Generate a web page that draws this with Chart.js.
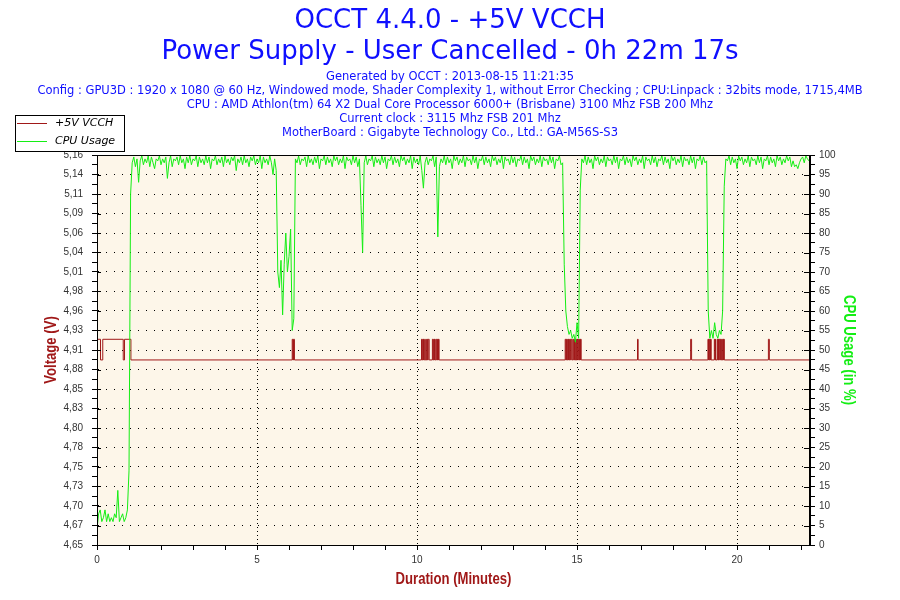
<!DOCTYPE html>
<html>
<head>
<meta charset="utf-8">
<script src="https://cdn.jsdelivr.net/npm/chart.js@4.4.0/dist/chart.umd.min.js"></script>
<style>
  html, body { margin: 0; padding: 0; background: #ffffff; }
  canvas { display: block; }
</style>
</head>
<body>
<canvas id="c" width="900" height="600"></canvas>
<script>
// ---------- DATA ----------
const titleLines = ['OCCT 4.4.0 - +5V VCCH', 'Power Supply - User Cancelled - 0h 22m 17s'];
const infoLines = [
  'Generated by OCCT : 2013-08-15 11:21:35',
  'Config : GPU3D : 1920 x 1080 @ 60 Hz, Windowed mode, Shader Complexity 1, without Error Checking ; CPU:Linpack : 32bits mode, 1715,4MB',
  'CPU : AMD Athlon(tm) 64 X2 Dual Core Processor 6000+ (Brisbane) 3100 Mhz FSB 200 Mhz',
  'Current clock : 3115 Mhz FSB 201 Mhz',
  'MotherBoard : Gigabyte Technology Co., Ltd.: GA-M56S-S3'
];
const seriesNames = ['+5V VCCH', 'CPU Usage'];
const axisTitles = { x: 'Duration (Minutes)', volt: 'Voltage (V)', cpu: 'CPU Usage (in %)' };

const durationMinutes = 22.28;
const voltMin = 4.65;
const voltMax = 5.16;
const voltageTickLabels = ['4,65','4,67','4,70','4,73','4,75','4,78','4,80','4,83','4,85','4,88','4,91',
                           '4,93','4,96','4,98','5,01','5,04','5,06','5,09','5,11','5,14','5,16'];

// +5V VCCH readings: [minute at which the reading starts, volts]
const voltReadings = [
  [0, 4.919], [0.11, 4.892], [0.18, 4.919], [0.82, 4.892], [0.86, 4.919], [1.06, 4.892],
  [6.10, 4.919], [6.12, 4.892], [6.14, 4.919], [6.17, 4.892],
  [10.14, 4.919], [10.16, 4.892], [10.18, 4.919], [10.20, 4.892], [10.21, 4.919], [10.23, 4.892],
  [10.27, 4.919], [10.29, 4.892], [10.31, 4.919], [10.33, 4.892], [10.35, 4.919], [10.38, 4.892],
  [10.48, 4.919], [10.50, 4.892], [10.52, 4.919], [10.54, 4.892], [10.55, 4.919], [10.57, 4.892],
  [10.60, 4.919], [10.62, 4.892], [10.64, 4.919], [10.66, 4.892], [10.67, 4.919], [10.69, 4.892],
  [14.63, 4.919], [14.65, 4.892], [14.67, 4.919], [14.69, 4.892], [14.71, 4.919], [14.73, 4.892],
  [14.74, 4.919], [14.76, 4.892],
  [14.78, 4.919], [14.80, 4.892], [14.82, 4.919], [14.85, 4.892],
  [14.88, 4.919], [14.90, 4.892], [14.92, 4.919], [14.94, 4.892],
  [14.96, 4.919], [14.98, 4.892], [15.00, 4.919], [15.02, 4.892], [15.04, 4.919], [15.06, 4.892],
  [15.08, 4.919], [15.10, 4.892], [15.11, 4.919], [15.13, 4.892],
  [16.89, 4.919], [16.91, 4.892],
  [18.55, 4.919], [18.58, 4.892],
  [19.09, 4.919], [19.11, 4.892], [19.12, 4.919], [19.13, 4.892],
  [19.15, 4.919], [19.17, 4.892], [19.18, 4.919], [19.19, 4.892],
  [19.29, 4.919], [19.31, 4.892], [19.32, 4.919], [19.33, 4.892],
  [19.38, 4.919], [19.40, 4.892], [19.41, 4.919], [19.42, 4.892],
  [19.44, 4.919], [19.46, 4.892], [19.48, 4.919], [19.50, 4.892], [19.52, 4.919], [19.54, 4.892],
  [19.56, 4.919], [19.58, 4.892], [19.59, 4.919], [19.60, 4.892],
  [20.98, 4.919], [21.01, 4.892],
  [22.28, 4.892]
];

// CPU usage (%), one reading every 0.05 minute from 0
const cpuSampleMinutes = 0.05;
const cpuUsage = [
  4, 8, 9, 6, 7, 9, 6, 8, 6, 7,
  6, 8, 7, 14, 6, 7, 8, 6, 7, 9,
  19, 90, 98, 99.5, 97, 99, 93, 98.5, 99.8, 97.5,
  99, 98, 99.8, 97, 99.5, 98, 96.5, 99, 98.5, 99.8,
  97.5, 99, 98, 99.5, 94, 98, 99.8, 97, 99, 98.5,
  99.5, 97.5, 99.8, 98, 99, 96.5, 99.5, 98, 99.8, 97.5,
  99, 98.5, 99.8, 97, 99.5, 98, 99, 97.5, 99.8, 98,
  99.5, 96.5, 99, 98.5, 99.8, 97.5, 99, 98, 99.5, 97,
  99.8, 98, 99, 97.5, 99.5, 98.5, 99.8, 96, 99, 98,
  99.5, 97.5, 99.8, 98, 99, 97, 99.5, 98.5, 99.8, 97.5,
  99, 98, 99.8, 96.5, 99.5, 98, 99, 97.5, 99.8, 98,
  95, 99, 96, 70, 66, 73, 59, 72, 80, 70,
  74, 81, 55, 58, 99, 98, 99.8, 97.5, 99, 98.5,
  99.5, 97, 99.8, 98, 99, 97.5, 99.5, 98, 99.8, 96.5,
  99, 98.5, 99.8, 97.5, 99.5, 98, 99, 97, 99.8, 98.5,
  99.5, 97.5, 99, 98, 99.8, 96.5, 99.5, 98.5, 99, 97.5,
  99.8, 98, 99.5, 97, 99, 87, 75, 98, 99.8, 97.5,
  99, 98.5, 99.8, 97, 99.5, 98, 99, 97.5, 99.8, 98,
  99.5, 96.5, 99, 98.5, 99.8, 97.5, 99.5, 98, 99, 97,
  99.8, 98.5, 99.5, 97.5, 99, 98, 99.8, 96.5, 99.5, 98,
  99, 97.5, 99.8, 96, 91.5, 98, 99.5, 97.5, 99, 98.5,
  99.8, 97, 99.5, 79, 97, 99, 98, 99.8, 97.5, 99.5,
  98, 99, 96.5, 99.8, 98.5, 99.5, 97.5, 99, 98, 99.8,
  97, 99.5, 98.5, 99, 97.5, 99.8, 98, 99.5, 96.5, 99,
  98.5, 99.8, 97.5, 99.5, 98, 99, 97, 99.8, 98.5, 99.5,
  97.5, 99, 98, 99.8, 96.5, 99.5, 98.5, 99, 97.5, 99.8,
  98, 99.5, 97, 99, 98.5, 99.8, 97.5, 99.5, 98, 99,
  96.5, 99.8, 98.5, 99.5, 97.5, 99, 98, 99.8, 97, 99.5,
  98.5, 99, 97.5, 99.8, 98, 99.5, 96.5, 99, 98.5, 99.8,
  97.5, 98, 72, 60, 56, 54, 55, 53, 54, 52,
  57, 53, 91, 99, 98, 99.8, 97.5, 99.5, 98, 99,
  96.5, 99.8, 98.5, 99.5, 97.5, 99, 98, 99.8, 97, 99.5,
  98.5, 99, 97.5, 99.8, 98, 99.5, 96.5, 99, 98.5, 99.8,
  97.5, 99.5, 98, 99, 97, 99.8, 98.5, 99.5, 97.5, 99,
  98, 99.8, 96.5, 99.5, 98.5, 99, 97.5, 99.8, 98, 99.5,
  97, 99, 98.5, 99.8, 97.5, 99.5, 98, 99, 96.5, 99.8,
  98.5, 99.5, 97.5, 99, 98, 99.8, 97, 99.5, 98.5, 99,
  97.5, 99.8, 98, 99.5, 96.5, 99, 98.5, 99.8, 97.5, 99.5,
  98, 98.5, 60, 53, 55, 53, 57, 54, 53, 55,
  54, 60, 92, 99, 98.5, 99.8, 97.5, 99.5, 98, 99,
  96.5, 99.8, 98.5, 99.5, 97.5, 99, 98, 99.8, 97, 99.5,
  98.5, 99, 97.5, 99.8, 98, 99.5, 96.5, 99, 98.5, 99.8,
  97.5, 99.5, 98, 99, 97, 99.8, 98.5, 99.5, 97.5, 99,
  98, 99.8, 98.5, 99.5, 97, 98.5, 97, 97.5, 96.5, 98,
  99, 99.5, 98, 99.8, 99, 98.5, 99.5
];

// ---------- STYLE ----------
const COLOR_VOLT = '#A01818';
const COLOR_CPU = '#14EE14';
const COLOR_TITLE = '#0F0FFF';
const PLOT_BG = '#FDF6E9';
const TICK_FONT = { family: "'Liberation Sans', Arial, sans-serif", size: 10 };
const AXIS_TITLE_FONT = "bold 16px 'Liberation Sans', Arial, sans-serif";

const voltData = voltReadings.map(([t, v]) => ({ x: t, y: v }));
const cpuData = cpuUsage.map((v, i) => ({ x: +(i * cpuSampleMinutes).toFixed(2), y: v }));

function drawNarrowTitle(ctx, text, x, y, rot, color) {
  ctx.save();
  ctx.translate(x, y);
  ctx.rotate(rot);
  ctx.scale(0.82, 1);
  ctx.font = AXIS_TITLE_FONT;
  ctx.fillStyle = color;
  ctx.textAlign = 'center';
  ctx.textBaseline = 'middle';
  ctx.fillText(text, 0, 0);
  ctx.restore();
}

const occtDecor = {
  id: 'occtDecor',
  beforeDraw(chart) {
    const { ctx, chartArea: a } = chart;
    ctx.save();
    ctx.fillStyle = '#ffffff';
    ctx.fillRect(0, 0, chart.width, chart.height);
    ctx.fillStyle = PLOT_BG;
    ctx.fillRect(a.left, a.top, a.right - a.left, a.bottom - a.top);
    ctx.restore();
  },
  afterDraw(chart) {
    const { ctx, chartArea: a } = chart;
    ctx.save();
    // frame
    ctx.strokeStyle = '#000';
    ctx.lineWidth = 1;
    ctx.strokeRect(Math.round(a.left) + 0.5, Math.round(a.top) + 0.5,
                   Math.round(a.right - a.left) - 1, Math.round(a.bottom - a.top));
    // inner halves of major ticks on both value axes
    const yV = chart.scales.yV, yC = chart.scales.yC;
    ctx.beginPath();
    yV.ticks.forEach((t, i) => {
      if (i % 2 === 0) {
        const y = Math.round(yV.getPixelForValue(t.value)) + 0.5;
        ctx.moveTo(a.left, y); ctx.lineTo(a.left + 4, y);
      }
    });
    yC.ticks.forEach((t) => {
      if (t.value % 5 === 0) {
        const y = Math.round(yC.getPixelForValue(t.value)) + 0.5;
        ctx.moveTo(a.right - 6, y); ctx.lineTo(a.right, y);
      }
    });
    ctx.stroke();

    // axis titles (narrow bold)
    const midY = (a.top + a.bottom) / 2;
    drawNarrowTitle(ctx, axisTitles.volt, 52, midY, -Math.PI / 2, COLOR_VOLT);
    drawNarrowTitle(ctx, axisTitles.cpu, 848, midY, Math.PI / 2, COLOR_CPU);
    drawNarrowTitle(ctx, axisTitles.x, (a.left + a.right) / 2, 580, 0, COLOR_VOLT);

    // header text
    ctx.fillStyle = COLOR_TITLE;
    ctx.textAlign = 'center';
    ctx.textBaseline = 'middle';
    ctx.font = "26px 'DejaVu Sans', Verdana, sans-serif";
    ctx.fillText(titleLines[0], 450, 21);
    ctx.fillText(titleLines[1], 450, 52);
    ctx.font = "11.5px 'DejaVu Sans', Verdana, sans-serif";
    infoLines.forEach((s, i) => ctx.fillText(s, 450, 77 + i * 14));

    // legend
    ctx.fillStyle = '#ffffff';
    ctx.fillRect(15.5, 115.5, 109, 36);
    ctx.strokeStyle = '#000';
    ctx.strokeRect(15.5, 115.5, 109, 36);
    ctx.font = "italic 11px 'DejaVu Sans', Verdana, sans-serif";
    ctx.textAlign = 'left';
    chart.data.datasets.forEach((ds, i) => {
      const y = 123.5 + i * 18;
      ctx.strokeStyle = ds.borderColor;
      ctx.beginPath(); ctx.moveTo(17, y); ctx.lineTo(47, y); ctx.stroke();
      ctx.fillStyle = '#000';
      ctx.fillText(ds.label, 55, y);
    });
    ctx.restore();
  }
};

new Chart(document.getElementById('c'), {
  type: 'line',
  data: {
    datasets: [
      { label: seriesNames[0], data: voltData, yAxisID: 'yV', borderColor: COLOR_VOLT, borderWidth: 1,
        pointRadius: 0, stepped: true, tension: 0, order: 1 },
      { label: seriesNames[1], data: cpuData, yAxisID: 'yC', borderColor: COLOR_CPU, borderWidth: 1,
        pointRadius: 0, tension: 0, order: 0 }
    ]
  },
  options: {
    responsive: false,
    animation: false,
    devicePixelRatio: 1,
    layout: { padding: { left: 43, right: 43, top: 155, bottom: 11 } },
    plugins: { legend: { display: false }, tooltip: { enabled: false }, title: { display: false } },
    scales: {
      x: {
        type: 'linear', min: 0, max: durationMinutes,
        afterFit: (s) => { s.height = 44; },
        ticks: { stepSize: 1, includeBounds: false, autoSkip: false, maxRotation: 0, padding: 4,
                 color: '#333', font: TICK_FONT,
                 callback: (v) => (v % 5 === 0 ? String(v) : '') },
        grid: { color: (c) => (c.tick && c.tick.value % 5 === 0 && c.tick.value > 0 ? '#000' : 'rgba(0,0,0,0)'),
                tickColor: '#000', tickLength: 5, lineWidth: 1 },
        border: { display: true, color: '#000', dash: [1, 3] },
        title: { display: false, text: axisTitles.x }
      },
      yV: {
        type: 'linear', position: 'left', min: voltMin, max: voltMax,
        afterFit: (s) => { s.width = 54; },
        afterBuildTicks: (s) => {
          const n = (voltageTickLabels.length - 1) * 2;
          const ticks = [];
          for (let k = 0; k <= n; k++) ticks.push({ value: voltMin + (voltMax - voltMin) * k / n });
          s.ticks = ticks;
        },
        ticks: { autoSkip: false, padding: 9, color: '#333', font: TICK_FONT,
                 callback: (v, i) => (i % 2 === 0 ? voltageTickLabels[i / 2] : '') },
        grid: { color: (c) => (c.index % 2 === 0 && c.index > 0 && c.index < 40 ? '#000' : 'rgba(0,0,0,0)'),
                tickColor: '#000', tickLength: 5, lineWidth: 1 },
        border: { display: true, color: '#000', dash: [1, 7] },
        title: { display: false, text: axisTitles.volt }
      },
      yC: {
        type: 'linear', position: 'right', min: 0, max: 100,
        afterFit: (s) => { s.width = 47; },
        ticks: { stepSize: 2.5, autoSkip: false, padding: 4, color: '#333', font: TICK_FONT,
                 callback: (v) => (v % 5 === 0 ? String(v) : '') },
        grid: { drawOnChartArea: false, tickColor: '#000', tickLength: 5 },
        border: { display: true, color: '#000' },
        title: { display: false, text: axisTitles.cpu }
      }
    }
  },
  plugins: [occtDecor]
});
</script>
</body>
</html>
